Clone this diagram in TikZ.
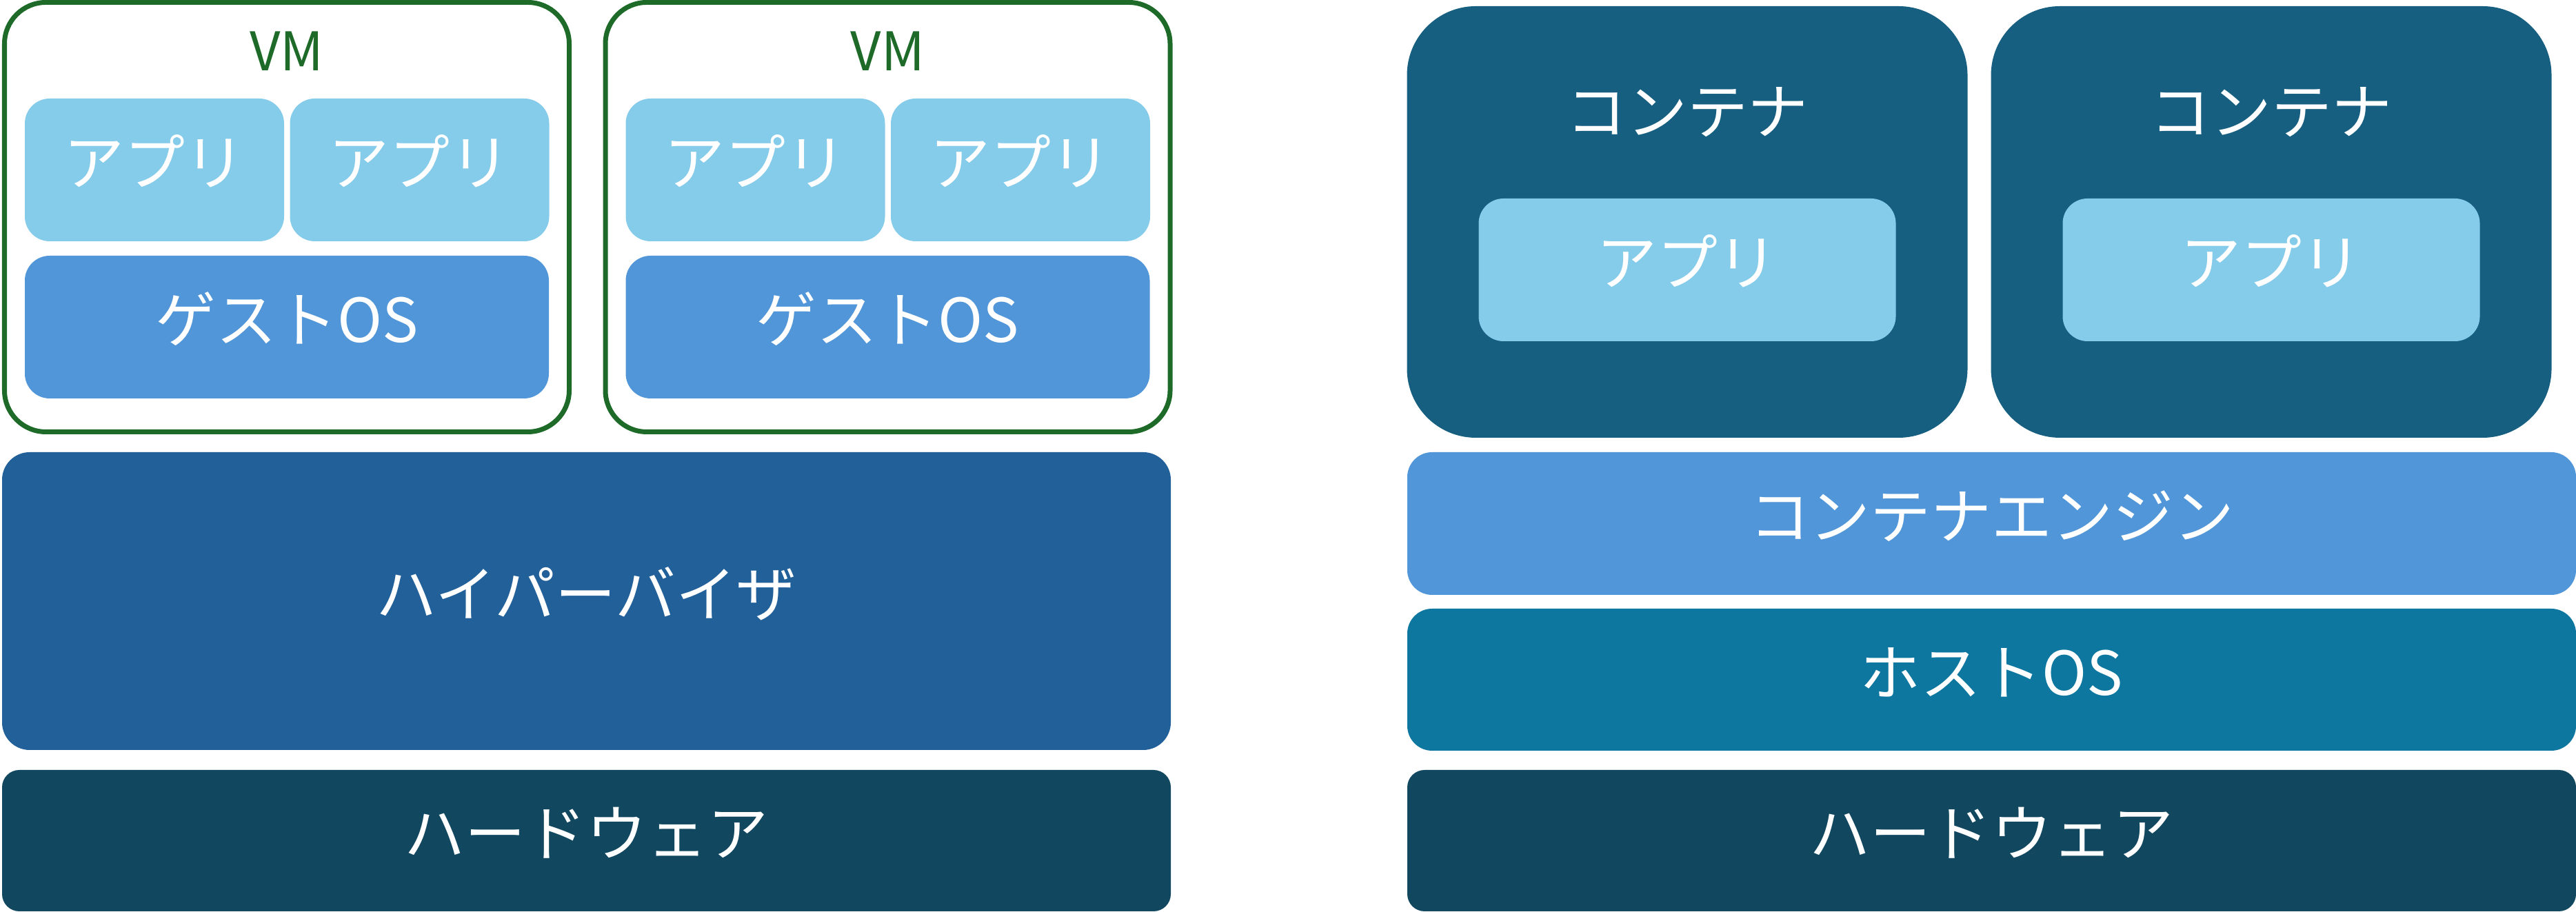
\documentclass[tikz,border=0pt]{standalone}
\usepackage{fontspec}
\setmainfont{Noto Sans CJK JP}
\usepackage{xcolor}
\usepackage{tikz}

\definecolor{vmgreen}{RGB}{30,106,40}
\definecolor{appblue}{RGB}{133,203,234}
\definecolor{osblue}{RGB}{80,150,216}
\definecolor{hvblue}{RGB}{34,96,154}
\definecolor{hwnavy}{RGB}{17,71,95}
\definecolor{ctteal}{RGB}{23,95,128}
\definecolor{hostteal}{RGB}{14,119,160}

\begin{document}
\begin{tikzpicture}[
  font=\fontsize{25}{30}\selectfont,
  layer/.style={rectangle, inner sep=0pt, text=white, rounded corners=0.36cm,
    text height=0.75cm, text depth=0.3cm},
  vmframe/.style={rectangle, inner sep=0pt, draw=vmgreen, line width=0.07cm,
    rounded corners=0.6cm, minimum width=8.19cm, minimum height=6.23cm},
  vmtitle/.style={text=vmgreen, font=\fontsize{22}{26}\selectfont},
  vmapp/.style={layer, fill=appblue, minimum width=3.76cm, minimum height=2.07cm},
  guestos/.style={layer, fill=osblue, minimum width=7.60cm, minimum height=2.07cm},
  ctframe/.style={rectangle, inner sep=0pt, fill=ctteal, rounded corners=1.0cm,
    minimum width=8.13cm, minimum height=6.26cm},
  cttitle/.style={text=white},
  ctapp/.style={layer, fill=appblue, minimum width=6.05cm, minimum height=2.07cm},
  wide/.style={layer, minimum width=16.95cm}
]
\useasboundingbox (0,0) rectangle (37.36,13.23);

% ============ LEFT : VIRTUAL MACHINES ============
\begin{scope}[xshift=0cm]
  \node[vmframe] (vm1) at (4.16,10.08) {};
  \node[vmtitle] (vm1title) at (4.16,12.49) {VM};
  \node[vmapp] (vm1appa) at (2.24,10.765) {アプリ};
  \node[vmapp] (vm1appb) at (6.085,10.765) {アプリ};
  \node[guestos] (vm1os) at (4.16,8.485) {ゲストOS};
\end{scope}

\begin{scope}[xshift=8.715cm]
  \node[vmframe] (vm2) at (4.16,10.08) {};
  \node[vmtitle] (vm2title) at (4.16,12.49) {VM};
  \node[vmapp] (vm2appa) at (2.24,10.765) {アプリ};
  \node[vmapp] (vm2appb) at (6.085,10.765) {アプリ};
  \node[guestos] (vm2os) at (4.16,8.485) {ゲストOS};
\end{scope}

\node[wide, fill=hvblue, minimum height=4.32cm, rounded corners=0.4cm]
  (hyper) at (8.505,4.51) {ハイパーバイザ};
\node[wide, fill=hwnavy, minimum height=2.05cm, rounded corners=0.25cm]
  (hwleft) at (8.505,1.035) {ハードウェア};

% ============ RIGHT : CONTAINERS ============
\begin{scope}[xshift=0cm]
  \node[ctframe] (ct1) at (24.47,10.01) {};
  \node[cttitle] (ct1title) at (24.47,11.60) {コンテナ};
  \node[ctapp] (ct1app) at (24.47,9.315) {アプリ};
\end{scope}

\begin{scope}[xshift=8.47cm]
  \node[ctframe] (ct2) at (24.47,10.01) {};
  \node[cttitle] (ct2title) at (24.47,11.60) {コンテナ};
  \node[ctapp] (ct2app) at (24.47,9.315) {アプリ};
\end{scope}

\node[wide, fill=osblue, minimum height=2.07cm] (engine) at (28.885,5.635) {コンテナエンジン};
\node[wide, fill=hostteal, minimum height=2.06cm] (hostos) at (28.885,3.37) {ホストOS};
\node[wide, fill=hwnavy, minimum height=2.05cm, rounded corners=0.25cm]
  (hwright) at (28.885,1.035) {ハードウェア};

\end{tikzpicture}
\end{document}
